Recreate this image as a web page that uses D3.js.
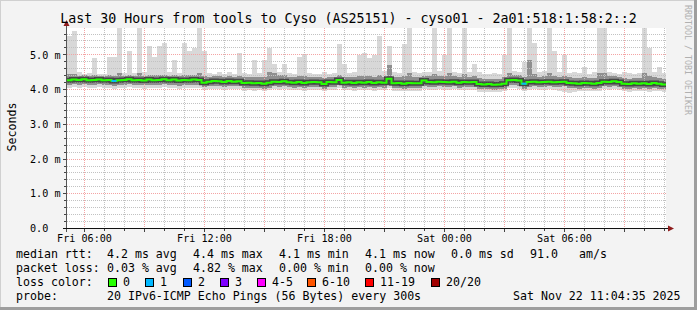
<!DOCTYPE html>
<html><head><meta charset="utf-8">
<script src="https://cdn.jsdelivr.net/npm/d3@7"></script>
<style>
html,body{margin:0;padding:0;background:#f2f2f2;}
svg{display:block;}
text{font-family:"DejaVu Sans Mono",monospace;fill:#000;}
</style></head><body>
<svg id="c" width="697" height="310"></svg>
<script>
// ---------------- data ----------------
const title = "Last 30 Hours from tools to Cyso (AS25151) - cyso01 - 2a01:518:1:58:2::2";
const startTime = new Date(2025, 10, 21, 5, 6, 0);
const endTime = new Date(2025, 10, 22, 11, 6, 0);
const stepMinutes = 15;
const yTicks = [0, 1, 2, 3, 4, 5];
const yTickLabels = ["0.0", "1.0 m", "2.0 m", "3.0 m", "4.0 m", "5.0 m"];
const xTickTimes = [new Date(2025,10,21,6), new Date(2025,10,21,12), new Date(2025,10,21,18), new Date(2025,10,22,0), new Date(2025,10,22,6)];
const xTickLabels = ["Fri 06:00", "Fri 12:00", "Fri 18:00", "Sat 00:00", "Sat 06:00"];

// median rtt (ms) per 15-minute step
const median = [
4.27,4.29,4.28,4.30,4.27,4.28,4.29,4.27,4.28,4.25,
4.27,4.28,4.30,4.27,4.28,4.26,4.29,4.27,4.28,4.30,
4.27,4.29,4.26,4.28,4.27,4.29,4.28,4.20,4.23,4.25,
4.24,4.22,4.25,4.23,4.24,4.19,4.20,4.18,4.19,4.17,
4.20,4.23,4.22,4.24,4.21,4.20,4.22,4.19,4.21,4.22,
4.21,4.16,4.22,4.21,4.28,4.20,4.21,4.19,4.21,4.20,
4.22,4.19,4.21,4.20,4.31,4.18,4.19,4.17,4.19,4.18,
4.18,4.26,4.22,4.21,4.23,4.22,4.21,4.23,4.20,4.22,
4.21,4.22,4.16,4.15,4.16,4.14,4.15,4.17,4.27,4.28,
4.26,4.17,4.22,4.23,4.21,4.22,4.23,4.21,4.22,4.23,
4.19,4.18,4.17,4.19,4.18,4.17,4.19,4.23,4.22,4.24,
4.22,4.17,4.16,4.18,4.17,4.18,4.16,4.19,4.17,4.15];
// slowest ping per step
const maxPing = [
5.55,5.70,4.50,4.45,4.48,4.90,4.46,4.45,4.95,4.95,
5.90,4.48,5.10,4.48,5.90,4.50,5.25,4.95,5.25,5.35,
4.52,4.85,4.48,5.35,5.10,5.20,5.90,5.10,4.48,4.45,
4.52,4.46,4.50,4.45,5.05,4.48,4.46,4.85,4.48,4.85,
5.20,4.75,4.50,4.75,4.48,4.46,4.95,5.03,4.48,4.45,
4.46,4.50,4.45,4.48,5.30,4.75,4.48,4.52,5.00,5.05,
4.90,5.00,5.55,4.55,5.25,4.52,4.48,5.30,5.90,4.50,
4.48,4.52,4.50,5.90,4.55,5.00,5.90,4.52,4.48,5.90,
4.50,4.75,4.52,4.46,4.45,4.48,4.46,5.00,5.90,4.55,
4.52,4.80,5.90,5.35,4.52,4.55,5.90,5.10,4.52,5.00,
4.48,4.52,4.48,4.65,4.46,4.50,5.90,5.90,4.52,4.48,
4.46,4.50,4.48,4.45,4.48,5.90,5.20,4.52,4.65,4.48];
// upper smoke (90th percentile)
const upperPing = [
4.44,4.45,4.40,4.41,4.39,4.42,4.40,4.39,4.41,4.39,
4.48,4.40,4.43,4.39,4.48,4.40,4.42,4.41,4.43,4.42,
4.40,4.41,4.38,4.42,4.41,4.42,4.48,4.40,4.37,4.39,
4.38,4.36,4.39,4.37,4.40,4.35,4.36,4.37,4.35,4.36,
4.52,4.48,4.41,4.42,4.37,4.36,4.38,4.39,4.37,4.37,
4.36,4.33,4.37,4.36,4.43,4.37,4.36,4.35,4.38,4.39,
4.38,4.37,4.43,4.37,4.70,4.35,4.35,4.39,4.48,4.35,
4.35,4.40,4.38,4.45,4.38,4.39,4.48,4.38,4.37,4.45,
4.37,4.38,4.33,4.32,4.32,4.31,4.32,4.35,4.48,4.42,
4.41,4.37,4.85,4.45,4.37,4.38,4.48,4.39,4.37,4.39,
4.35,4.34,4.33,4.35,4.34,4.33,4.48,4.48,4.38,4.39,
4.37,4.34,4.32,4.34,4.33,4.48,4.40,4.35,4.33,4.31];
// lower smoke (10th percentile)
const lowerPing = [
4.14,4.15,4.13,4.15,4.12,4.14,4.15,4.13,4.14,4.11,
4.12,4.14,4.15,4.12,4.13,4.12,4.14,4.12,4.13,4.15,
4.12,4.14,4.11,4.13,4.12,4.14,4.12,4.07,4.09,4.11,
4.10,4.08,4.11,4.09,4.10,4.05,4.06,4.04,4.05,4.03,
4.06,4.09,4.08,4.10,4.07,4.06,4.08,4.05,4.07,4.08,
4.07,4.03,4.08,4.07,4.12,4.06,4.07,4.05,4.07,4.06,
4.08,4.05,4.07,4.06,4.13,4.04,4.05,4.03,4.05,4.04,
4.04,4.10,4.08,4.07,4.09,4.08,4.07,4.09,4.06,4.08,
4.07,4.08,4.02,4.01,4.02,4.00,4.01,4.03,4.12,4.13,
4.11,4.03,4.08,4.09,4.07,4.08,4.09,4.07,4.08,4.09,
4.05,4.04,4.03,4.05,4.04,4.03,4.05,4.09,4.08,4.10,
4.08,4.03,4.02,4.04,4.03,4.04,4.02,4.05,4.03,4.01];
// fastest ping per step
const minPing = [
4.06,4.08,4.05,4.07,4.04,4.06,4.08,4.05,4.06,4.02,
4.04,4.06,4.08,4.04,4.05,4.03,4.06,4.04,4.05,4.07,
4.04,4.06,4.02,4.05,4.04,4.06,4.04,3.98,4.01,4.03,
4.02,4.00,4.03,4.01,4.02,3.97,3.98,3.96,3.98,3.95,
3.98,4.01,4.00,4.02,3.99,3.98,4.00,3.97,3.99,4.00,
3.99,3.95,4.00,3.99,4.04,3.98,3.99,3.97,3.99,3.98,
4.00,3.97,3.99,3.98,4.05,3.96,3.97,3.95,3.97,3.96,
3.96,4.02,4.00,3.99,4.01,4.00,3.99,4.01,3.98,4.00,
3.99,4.00,3.94,3.93,3.94,3.92,3.94,3.95,4.04,4.05,
4.03,3.95,4.00,4.01,3.99,4.00,4.01,3.99,3.97,3.94,
3.91,3.93,3.95,3.97,3.96,3.95,3.97,4.01,4.00,4.02,
4.00,3.95,3.94,3.96,3.95,3.96,3.94,3.97,3.95,3.93];
// lost pings per step (of 20)
const lossCount = [
0,0,0,0,0,0,0,0,0,1, 0,0,0,0,0,0,0,0,0,0, 0,0,0,0,0,0,0,0,0,0,
0,0,0,0,0,0,0,0,0,0, 0,0,0,0,0,0,0,0,0,0, 0,0,0,0,0,0,0,0,0,0,
0,0,0,0,0,0,0,0,0,0, 0,0,0,0,0,0,0,0,0,0, 0,0,0,0,0,0,0,0,0,0,
0,1,0,0,0,0,0,0,0,0, 0,0,0,0,0,0,0,0,0,0, 0,0,0,0,0,0,0,0,0,0];

const lossLabels = ["0", "1", "2", "3", "4-5", "6-10", "11-19", "20/20"];
const lossMaxCount = [0, 1, 2, 3, 5, 10, 19, 20];
const lossColors = ["#26ff00", "#00b8ff", "#0059ff", "#7e00ff", "#ff00ff", "#ff5500", "#ff0000", "#a10000"];

const rttRow = ["4.2 ms avg", "4.4 ms max", "4.1 ms min", "4.1 ms now", "0.0 ms sd", "91.0", "am/s"];
const lossRow = ["0.03 % avg", "4.82 % max", "0.00 % min", "0.00 % now"];
const probeText = "20 IPv6-ICMP Echo Pings (56 Bytes) every 300s";
const stampText = "Sat Nov 22 11:04:35 2025";

// ---------------- drawing ----------------
const svg = d3.select("#c");
const W = 697, H = 310;
const L = 67, R = 666, T = 28, B = 228;

svg.append("rect").attr("width", W).attr("height", H).attr("fill", "#f3f3f3");
svg.append("path").attr("d", `M0,${H} V0 H${W}`).attr("fill", "none").attr("stroke", "#d0d0d0").attr("stroke-width", 2);
svg.append("path").attr("d", `M0,${H-1.5} H${W-1.5} V0`).attr("fill", "none").attr("stroke", "#9e9e9e").attr("stroke-width", 3);

const x = d3.scaleTime().domain([startTime, endTime]).range([66.5, 666.5]);
const y = d3.scaleLinear().domain([0, 5.76]).range([228.5, 28.5]);
const px = v => Math.floor(v) + 0.5;

svg.append("rect").attr("x", L).attr("y", T).attr("width", R - L).attr("height", B - T).attr("fill", "#fff");

const defs = svg.append("defs");
defs.append("clipPath").attr("id", "clip").append("rect").attr("x", L).attr("y", T).attr("width", R - L).attr("height", B - T);

// smoke
const steps = median.map((m, i) => ({
  t0: d3.timeMinute.offset(startTime, i * stepMinutes),
  t1: d3.timeMinute.offset(startTime, (i + 1) * stepMinutes),
  med: m, max: maxPing[i], up: upperPing[i], lo: lowerPing[i], min: minPing[i], loss: lossCount[i]
}));
const plot = svg.append("g").attr("clip-path", "url(#clip)").attr("shape-rendering", "crispEdges");
plot.selectAll(".sm1").data(steps).join("rect")
  .attr("x", d => x(d.t0)).attr("width", d => x(d.t1) - x(d.t0))
  .attr("y", d => y(d.max)).attr("height", d => y(d.min) - y(d.max))
  .attr("fill", "#d8d8d8");
plot.selectAll(".sm2").data(steps).join("rect")
  .attr("x", d => x(d.t0)).attr("width", d => x(d.t1) - x(d.t0))
  .attr("y", d => y(d.up)).attr("height", d => y(d.lo) - y(d.up))
  .attr("fill", "#8f8f8f");

// grid (dotted)
const g = svg.append("g").attr("shape-rendering", "crispEdges");
const minorY = d3.range(1, 29).map(k => k * 0.2).filter(v => Math.abs(v - Math.round(v)) > 0.01);
const hours = d3.timeHour.range(startTime, endTime);
g.selectAll(".hy").data(minorY).join("line")
  .attr("x1", L).attr("x2", R).attr("y1", d => px(y(d))).attr("y2", d => px(y(d)))
  .attr("stroke", "#c2c2c2").attr("stroke-dasharray", "1,1");
g.selectAll(".vx").data(hours.filter(h => h.getHours() % 3 !== 0)).join("line")
  .attr("y1", T).attr("y2", B).attr("x1", d => px(x(d))).attr("x2", d => px(x(d)))
  .attr("stroke", "#c2c2c2").attr("stroke-dasharray", "1,1");
g.selectAll(".hY").data(yTicks.filter(v => v > 0)).join("line")
  .attr("x1", L).attr("x2", R).attr("y1", d => px(y(d))).attr("y2", d => px(y(d)))
  .attr("stroke", "#f4a4a4").attr("stroke-dasharray", "1,1");
g.selectAll(".vX").data(hours.filter(h => h.getHours() % 3 === 0)).join("line")
  .attr("y1", T).attr("y2", B).attr("x1", d => px(x(d))).attr("x2", d => px(x(d)))
  .attr("stroke", "#f4a4a4").attr("stroke-dasharray", "1,1");

// median line
const line = svg.append("g").attr("clip-path", "url(#clip)");
const pts = steps.map(d => [x(d.t0), y(d.med)]);
pts.push([x(endTime), y(median[median.length - 1])]);
const stepLine = d3.line().curve(d3.curveStepAfter);
line.append("path").attr("d", stepLine(pts)).attr("fill", "none")
  .attr("stroke", "#333").attr("stroke-opacity", 0.8).attr("stroke-width", 5);
const lossColor = n => lossColors[lossMaxCount.findIndex(c => n <= c)];
line.append("path").attr("d", stepLine(pts)).attr("fill", "none")
  .attr("stroke", lossColors[0]).attr("stroke-width", 2);
line.selectAll(".ls").data(steps.filter(d => d.loss > 0)).join("line")
  .attr("x1", d => x(d.t0)).attr("x2", d => x(d.t1))
  .attr("y1", d => y(d.med)).attr("y2", d => y(d.med))
  .attr("stroke", d => lossColor(d.loss)).attr("stroke-width", 2);

// axes
const ax = svg.append("g").attr("shape-rendering", "crispEdges");
ax.selectAll(".ty").data(minorY).join("line")
  .attr("x1", 64).attr("x2", 66).attr("y1", d => px(y(d))).attr("y2", d => px(y(d)))
  .attr("stroke", "#444");
ax.selectAll(".tY").data(yTicks).join("line")
  .attr("x1", 63).attr("x2", 66).attr("y1", d => px(y(d))).attr("y2", d => px(y(d)))
  .attr("stroke", "#444");
ax.selectAll(".tx").data(hours).join("line")
  .attr("y1", 229).attr("y2", d => d.getHours() % 3 === 0 ? 232 : 231)
  .attr("x1", d => px(x(d))).attr("x2", d => px(x(d)))
  .attr("stroke", "#444");
ax.append("line").attr("x1", 66.5).attr("x2", 66.5).attr("y1", 232).attr("y2", 25).attr("stroke", "#555");
ax.append("line").attr("x1", 63).attr("x2", 669).attr("y1", 228.5).attr("y2", 228.5).attr("stroke", "#111");
ax.append("path").attr("d", "M63.5,26 L69.5,26 L66.5,20 Z").attr("fill", "#8e1c1c").attr("shape-rendering", "auto");
ax.append("path").attr("d", "M668,225.5 L668,231.5 L674,228.5 Z").attr("fill", "#8e1c1c").attr("shape-rendering", "auto");

// tick labels
svg.selectAll(".yl").data(yTicks).join("text")
  .attr("x", 30).attr("y", d => y(d) + 3.7)
  .attr("font-size", "10.15px").text((d, i) => yTickLabels[i]);
svg.selectAll(".xl").data(xTickTimes).join("text")
  .attr("x", d => x(d)).attr("y", 241.5).attr("text-anchor", "middle")
  .attr("font-size", "10.15px").text((d, i) => xTickLabels[i]);

// title, unit, watermark
svg.append("text").attr("x", 348.5).attr("y", 23.3).attr("text-anchor", "middle")
  .attr("font-size", "13.3px").text(title);
svg.append("text").attr("transform", "translate(15.5,127) rotate(-90)").attr("text-anchor", "middle")
  .attr("font-size", "11.6px").text("Seconds");
svg.append("text").attr("transform", "translate(685,5) rotate(90)")
  .attr("font-size", "8.3px").style("fill", "#b0b0b0").text("RRDTOOL / TOBI OETIKER");

// legend
const lg = svg.append("g").attr("font-size", "11.6px").style("white-space", "pre");
lg.append("text").attr("x", 16).attr("y", 258).text("median rtt:");
const colX = [107, 193, 279, 365, 451, 530, 579];
rttRow.forEach((t, i) => lg.append("text").attr("x", colX[i]).attr("y", 258).text(t));
lg.append("text").attr("x", 16).attr("y", 272).text("packet loss:");
lossRow.forEach((t, i) => lg.append("text").attr("x", colX[i]).attr("y", 272).text(t));
lg.append("text").attr("x", 16).attr("y", 286).text("loss color:");
const boxX = [108, 145, 183, 220, 257, 307, 365, 431];
lossLabels.forEach((t, i) => {
  lg.append("rect").attr("x", boxX[i] + 0.5).attr("y", 278.5).attr("width", 8).attr("height", 8)
    .attr("fill", lossColors[i]).attr("stroke", "#000").attr("stroke-width", 1);
  lg.append("text").attr("x", boxX[i] + 15).attr("y", 286).text(t);
});
lg.append("text").attr("x", 16).attr("y", 300).text("probe:");
lg.append("text").attr("x", 107).attr("y", 300).text(probeText);
lg.append("text").attr("x", 513).attr("y", 300).text(stampText);
</script>
</body></html>
